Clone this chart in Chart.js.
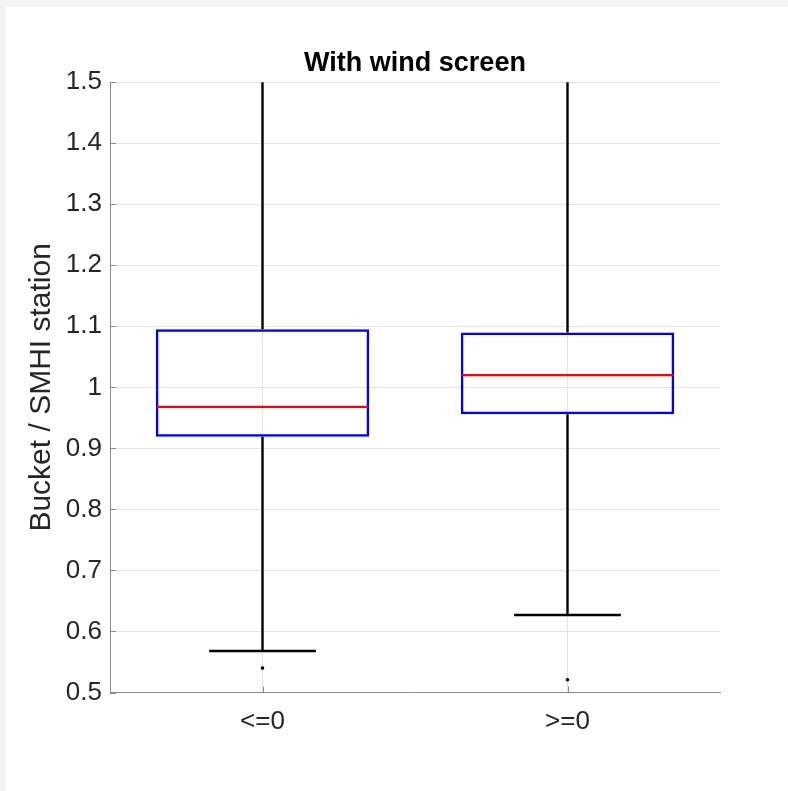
<!DOCTYPE html>
<html>
<head>
<meta charset="utf-8">
<script src="https://cdn.jsdelivr.net/npm/chart.js@4.4.1/dist/chart.umd.min.js"></script>
<style>
  html, body { margin: 0; padding: 0; background: #f2f3f5; }
  #wrap { position: absolute; left: 6px; top: 7px; width: 782px; height: 784px; background: #ffffff; }
  canvas { display: block; }
</style>
</head>
<body>
<div id="wrap"><canvas id="chart" width="782" height="784"></canvas></div>
<script>
// Ratio of bucket to SMHI station precipitation, grouped by temperature sign
const categories = ['<=0', '>=0'];
const q1 = [0.919, 0.956];
const median = [0.968, 1.020];
const q3 = [1.095, 1.090];
const whiskerLow = [0.568, 0.627];
const whiskerHigh = [1.62, 1.60];   // upper whiskers run past the top of the axis
const outliers = [[0.540], [0.521]];
const yMin = 0.5, yMax = 1.5, yStep = 0.1;

const AXIS_GRAY = '#8a8a8a';
const GRID_GRAY = '#e4e4e4';
const TEXT = '#262626';
const FONT = "'Liberation Sans', Arial, Helvetica, sans-serif";

// Centre the chart title over the plotting area rather than the whole canvas
const titleOverAxesPlugin = {
  id: 'titleOverAxes',
  afterLayout(chart) {
    const block = chart.titleBlock;
    if (block) {
      block.left = chart.chartArea.left;
      block.right = chart.chartArea.right;
    }
  }
};

// Whiskers, caps and median lines, positioned through the chart scales
const boxWhiskerPlugin = {
  id: 'boxWhiskers',
  afterDatasetsDraw(chart) {
    const { ctx, chartArea, scales: { y } } = chart;
    const meta = chart.getDatasetMeta(0);
    ctx.save();
    ctx.beginPath();
    ctx.rect(chartArea.left, chartArea.top, chartArea.right - chartArea.left, chartArea.bottom - chartArea.top);
    ctx.clip();
    meta.data.forEach((bar, i) => {
      const cx = bar.x;
      const w = bar.width;
      ctx.lineCap = 'butt';
      // whiskers
      ctx.strokeStyle = '#000000';
      ctx.lineWidth = 2.4;
      ctx.beginPath();
      ctx.moveTo(cx, y.getPixelForValue(q3[i]));
      ctx.lineTo(cx, y.getPixelForValue(whiskerHigh[i]));
      ctx.moveTo(cx, y.getPixelForValue(q1[i]));
      ctx.lineTo(cx, y.getPixelForValue(whiskerLow[i]));
      // caps, half the box width
      const capHi = y.getPixelForValue(whiskerHigh[i]);
      const capLo = y.getPixelForValue(whiskerLow[i]);
      ctx.moveTo(cx - w / 4, capHi);
      ctx.lineTo(cx + w / 4, capHi);
      ctx.moveTo(cx - w / 4, capLo);
      ctx.lineTo(cx + w / 4, capLo);
      ctx.stroke();
      // median
      ctx.strokeStyle = '#ff0000';
      ctx.lineWidth = 2.2;
      const my = y.getPixelForValue(median[i]);
      ctx.beginPath();
      ctx.moveTo(cx - w / 2 + 1, my);
      ctx.lineTo(cx + w / 2 - 1, my);
      ctx.stroke();
    });
    ctx.restore();
  }
};

// Short inward tick marks on the left and bottom axes
const innerTicksPlugin = {
  id: 'innerTicks',
  afterDraw(chart) {
    const { ctx, chartArea, scales: { x, y } } = chart;
    ctx.save();
    ctx.strokeStyle = AXIS_GRAY;
    ctx.lineWidth = 1;
    ctx.beginPath();
    y.ticks.forEach((t, i) => {
      const py = Math.round(y.getPixelForTick(i)) + 0.5;
      ctx.moveTo(chartArea.left, py);
      ctx.lineTo(chartArea.left + 6, py);
    });
    x.ticks.forEach((t, i) => {
      const px = Math.round(x.getPixelForTick(i)) + 0.5;
      ctx.moveTo(px, chartArea.bottom);
      ctx.lineTo(px, chartArea.bottom - 6);
    });
    ctx.stroke();
    ctx.restore();
  }
};

const outlierPoints = [];
outliers.forEach((vals, i) => vals.forEach(v => outlierPoints.push({ x: categories[i], y: v })));

new Chart(document.getElementById('chart'), {
  type: 'bar',
  data: {
    labels: categories,
    datasets: [
      {
        label: 'IQR',
        data: categories.map((c, i) => [q1[i], q3[i]]),
        backgroundColor: 'rgba(0,0,0,0)',
        borderColor: '#0000ff',
        borderWidth: 2.5,
        borderSkipped: false,
        barPercentage: 0.7,
        categoryPercentage: 1.0
      },
      {
        type: 'scatter',
        label: 'Outliers',
        data: outlierPoints,
        pointRadius: 1.8,
        pointBackgroundColor: '#000000',
        pointBorderWidth: 0
      }
    ]
  },
  options: {
    responsive: false,
    animation: false,
    layout: { padding: { left: 0, right: 68, top: 22, bottom: 0 } },
    plugins: {
      legend: { display: false },
      tooltip: { enabled: false },
      title: {
        display: true,
        text: 'With wind screen',
        color: '#000000',
        font: { family: FONT, size: 27, weight: 'bold', lineHeight: 1.2 },
        padding: { top: 18.5, bottom: 2.3 }
      }
    },
    scales: {
      x: {
        type: 'category',
        offset: true,
        grid: { color: GRID_GRAY, offset: false, drawTicks: false, lineWidth: 1 },
        border: { display: true, color: AXIS_GRAY, width: 1 },
        ticks: { color: TEXT, font: { family: FONT, size: 26 }, padding: 14 },
        afterFit(scale) { scale.height = 98.5; }
      },
      y: {
        min: yMin,
        max: yMax,
        grid: { color: GRID_GRAY, drawTicks: false, lineWidth: 1 },
        border: { display: true, color: AXIS_GRAY, width: 1 },
        ticks: {
          stepSize: yStep,
          color: TEXT,
          font: { family: FONT, size: 26 },
          padding: 8,
          callback: v => {
            const r = Math.round(v * 10) / 10;
            return Number.isInteger(r) ? String(r) : r.toFixed(1);
          }
        },
        title: {
          display: true,
          text: 'Bucket / SMHI station',
          color: TEXT,
          font: { family: FONT, size: 30, lineHeight: 1.2 },
          padding: { top: 18, bottom: 0 }
        },
        afterFit(scale) { scale.width = 104; }
      }
    }
  },
  plugins: [titleOverAxesPlugin, boxWhiskerPlugin, innerTicksPlugin]
});
</script>
</body>
</html>
